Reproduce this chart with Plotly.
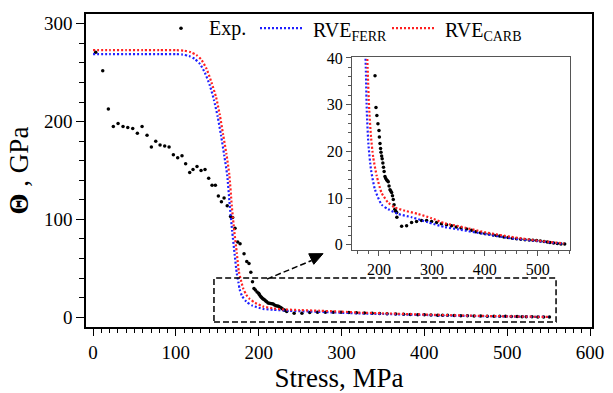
import plotly.graph_objects as go

# ---- data ----
exp_x = [3.2, 11.7, 18.5, 24.5, 30.2, 36.2, 41.9, 47.9, 53.5, 59.2, 65.2, 70.4, 75.7, 80.9,
         86.5, 91.8, 97, 102.2, 107.4, 111.8, 116.7, 120.7, 125.5, 130.4, 135.2, 139.6,
         143.7, 147.7, 151.3, 155, 158.2, 162, 166, 168.6, 171.4, 174.7, 177.5, 182.3, 185.6,
         188.3, 190.5, 192.5, 194.3, 196, 198, 200, 200.7, 201.9, 203, 203.8, 205, 206, 207.3,
         208.5, 209.7, 211.3, 212.8, 214.5, 216, 217.5, 219, 220.8, 222.3, 223.9, 225.5, 227,
         228.5, 230, 231.7, 233.4, 233.8, 242.8, 252.2, 261.6, 271, 280.5, 290, 299.4, 308.8,
         318, 327.7, 337, 346, 355, 365.5, 375, 383, 392, 400, 408, 416, 422, 428, 436, 444,
         452, 460, 468, 476, 484, 491, 498, 505, 512, 518, 523, 530, 537, 544, 551]
exp_y = [271, 252, 213, 195, 198, 195, 194, 193, 188, 195, 186, 174, 180, 176,
         175, 174, 166, 163, 165, 157, 148, 151, 154, 150, 151, 142,
         135, 135, 124, 118, 122, 114, 103, 102, 91, 77, 75, 65, 57,
         55, 46, 36.2, 29.4, 27.7, 25.9, 24.5, 23.1, 21.7, 20.6, 19.8, 19, 18.4, 17.5,
         16.6, 15.7, 14.6, 14.2, 13.9, 13.7, 13.5, 12.6, 11.8, 11.5, 11.2, 10.5, 9.7,
         8.6, 7.6, 7.2, 6.9, 5.9, 4.0, 4.1, 4.8, 5.0, 5.2, 5.2, 5.0, 4.8,
         4.5, 4.3, 4.1, 3.8, 3.6, 3.4, 3.1, 2.8, 2.6, 2.4, 2.3, 2.1, 2.0, 1.9, 1.7, 1.55,
         1.4, 1.3, 1.2, 1.1, 1.05, 1.0, 0.9, 0.8, 0.7, 0.6, 0.5, 0.4, 0.3, 0.2, 0.15]

ferr_x = [0, 20, 40, 60, 80, 100, 108, 116, 123, 129, 135, 141, 146, 150.5, 154.5, 158.5,
          162, 165, 168, 171, 173.5, 175.5, 177, 180, 185, 192.5, 205, 217.6, 236.4, 261.7,
          293, 324.5, 350, 400, 450, 500, 550]
ferr_y = [269, 269, 269, 269, 269, 269, 268.5, 267, 264, 259, 250, 237, 222, 205, 186, 165,
          145, 115, 88, 64, 45, 36, 28.5, 21.6, 16, 11.8, 8.6, 7.6, 6.6, 5.9,
          4.8, 3.8, 3.3, 2.3, 1.4, 0.8, 0.2]

carb_x = [0, 20, 40, 60, 80, 100, 110, 118, 125, 131, 137, 143, 148.5, 153, 157, 161, 164.5,
          167.5, 170.5, 173.5, 176, 178.5, 181.5, 185, 189, 195.6, 205, 217.6, 230, 249, 274,
          299, 324.5, 350, 400, 450, 500, 550]
carb_y = [273, 273, 273, 273, 273, 273, 272.5, 271, 268, 263, 254, 240, 225, 207, 187, 167, 146,
          114, 88, 66, 47, 38, 29, 23, 18.8, 14.8, 11.1, 9.0, 8.0, 7.3, 6.6,
          5.7, 4.6, 4.0, 2.7, 1.7, 0.9, 0.3]

names = ["Exp.", "RVE<sub>FERR</sub>", "RVE<sub>CARB</sub>"]
colors = ["black", "#1f1fff", "#ff2020"]

FONT = "Liberation Serif"
DOT = "2px,2px"

fig = go.Figure()
for xa, ya in [("x", "y"), ("x2", "y2")]:
    fig.add_trace(go.Scatter(x=exp_x, y=exp_y, mode="markers", name=names[0],
                             marker=dict(color=colors[0], size=3.5), xaxis=xa, yaxis=ya,
                             showlegend=False))
    fig.add_trace(go.Scatter(x=ferr_x, y=ferr_y, mode="lines", name=names[1],
                             line=dict(color=colors[1], width=2.2, dash=DOT, shape="spline", smoothing=0.6),
                             xaxis=xa, yaxis=ya, showlegend=False))
    fig.add_trace(go.Scatter(x=carb_x, y=carb_y, mode="lines", name=names[2],
                             line=dict(color=colors[2], width=2.2, dash=DOT, shape="spline", smoothing=0.6),
                             xaxis=xa, yaxis=ya, showlegend=False))

fig.update_layout(
    width=613, height=393,
    margin=dict(l=86, r=21, t=7, b=66),
    paper_bgcolor="white", plot_bgcolor="white",
    font=dict(family=FONT, color="black", size=18),
    xaxis=dict(range=[-8.5, 602.4], dtick=100, tick0=0, ticklen=7, tickwidth=1.3,
               minor=dict(dtick=10, ticklen=4, ticks="outside", tickcolor="black", tickwidth=1),
               title=dict(text="Stress, MPa", font=dict(family=FONT, size=27), standoff=2)),
    yaxis=dict(range=[-10, 310], dtick=100, tick0=0, ticklen=8, tickwidth=1.3,
               minor=dict(dtick=20, ticklen=5, ticks="outside", tickcolor="black", tickwidth=1),
               title=dict(text="<b>Θ</b> , GPa", font=dict(family=FONT, size=27), standoff=8)),
    xaxis2=dict(domain=[0.5257, 0.9565], anchor="y2", range=[149, 561], dtick=100, tick0=0,
                ticklen=5, minor=dict(dtick=20, ticklen=3, ticks="outside", tickcolor="#555"),
                linecolor="#555", linewidth=1.2, tickcolor="#555"),
    yaxis2=dict(domain=[0.2469, 0.8625], anchor="x2", range=[-1.05, 40.2], dtick=10, tick0=0,
                ticklen=5, minor=dict(dtick=2, ticklen=3, ticks="outside", tickcolor="#555"),
                linecolor="#555", linewidth=1.2, tickcolor="#555"),
    showlegend=False,
)
fig.update_xaxes(showline=True, mirror=True, ticks="outside", showgrid=False, zeroline=False)
fig.update_yaxes(showline=True, mirror=True, ticks="outside", showgrid=False, zeroline=False)
fig.update_layout(
    xaxis=dict(linecolor="black", linewidth=1.5, tickcolor="black",
               tickfont=dict(family=FONT, size=19, color="black")),
    yaxis=dict(linecolor="black", linewidth=1.5, tickcolor="black",
               tickfont=dict(family=FONT, size=19, color="black")),
    xaxis2=dict(tickfont=dict(family=FONT, size=16, color="black")),
    yaxis2=dict(tickfont=dict(family=FONT, size=16, color="black")),
)

# ---- legend drawn at the top of the plot (paper coordinates) ----
W, H, L, B = 506.0, 320.0, 86.0, 327.0
def px(xp): return (xp - L) / W
def py(yp): return (B - yp) / H

LEG_Y = 21.5
fig.add_shape(type="circle", xref="paper", yref="paper", xsizemode="pixel", ysizemode="pixel",
              xanchor=px(181), yanchor=py(LEG_Y), x0=-1.8, x1=1.8, y0=-1.8, y1=1.8,
              fillcolor=colors[0], line=dict(width=0))
fig.add_shape(type="line", xref="paper", yref="paper", x0=px(260), x1=px(304),
              y0=py(LEG_Y), y1=py(LEG_Y), line=dict(color=colors[1], width=2.2, dash=DOT))
fig.add_shape(type="line", xref="paper", yref="paper", x0=px(392), x1=px(436),
              y0=py(LEG_Y), y1=py(LEG_Y), line=dict(color=colors[2], width=2.2, dash=DOT))
for name, xl, shift in [(names[0], 207, 0), (names[1], 311, -3), (names[2], 443, -3)]:
    fig.add_annotation(x=px(xl), y=py(LEG_Y), xref="paper", yref="paper", text=name,
                       showarrow=False, xanchor="left", yanchor="middle", yshift=shift,
                       font=dict(family=FONT, size=20, color="black"))

# dashed zoom rectangle on the main plot
fig.add_shape(type="rect", xref="x", yref="y", x0=146, x1=559, y0=-5, y1=40,
              line=dict(color="black", width=1.5, dash="6px,3px"), layer="above")
# dashed arrow line and filled arrowhead
fig.add_shape(type="line", xref="x", yref="y", x0=210, y0=39, x1=264, y1=58,
              line=dict(color="black", width=1.5, dash="6px,3px"))
fig.add_shape(type="path", xref="x", yref="y",
              path="M277.7,65 L266.5,54.1 L260.4,64.9 Z",
              fillcolor="black", line=dict(color="black", width=1))

fig.write_html("out.html")
